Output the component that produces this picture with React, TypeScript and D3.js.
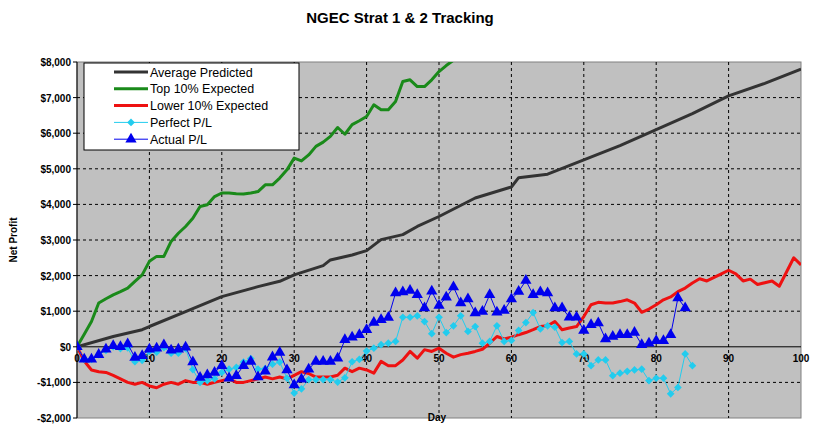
import * as d3 from "d3";

const avgDays = [0, 5, 9, 10, 15, 20, 25, 28, 30, 34, 35, 38, 40, 42, 45, 47, 50, 55, 60, 61, 65, 70, 75, 80, 85, 90, 95, 100];
const avgVals = [0, 290, 480, 570, 990, 1410, 1690, 1840, 2020, 2280, 2440, 2580, 2700, 3010, 3150, 3380, 3660, 4180, 4490, 4750, 4850, 5250, 5650, 6100, 6550, 7050, 7400, 7800];

const topVals = [0, 350, 710, 1230, 1350, 1460, 1550, 1650, 1840, 2020, 2400, 2540, 2540, 2960, 3190, 3380, 3610, 3940, 3990, 4220, 4320, 4320, 4300, 4290, 4320, 4360, 4550, 4550, 4740, 4970, 5300, 5220, 5390, 5630, 5750, 5910, 6160, 5970, 6240, 6350, 6470, 6800, 6660, 6660, 6890, 7450, 7500, 7310, 7310, 7500, 7730, 7900, 8050, 8200];

const lowVals = [0, -400, -650, -700, -720, -800, -900, -1000, -1050, -1000, -1100, -1150, -1050, -1000, -1050, -950, -1000, -1000, -1050, -1000, -950, -900, -1000, -1000, -950, -900, -850, -900, -850, -900, -800, -700, -750, -850, -850, -850, -800, -600, -700, -600, -650, -740, -410, -530, -530, -370, -130, -320, -80, -130, -40, -180, -290, -220, -180, -130, -70, 100, 290, 220, 270, 340, 400, 480, 570, 590, 710, 480, 530, 570, 850, 1180, 1250, 1230, 1230, 1270, 1320, 1230, 970, 1060, 1180, 1320, 1400, 1550, 1650, 1790, 1910, 1850, 1950, 2050, 2150, 2050, 1850, 1900, 1750, 1800, 1850, 1700, 2100, 2500, 2300];

const perfectVals = [0, -350, -350, -220, -100, 0, -50, -30, -420, -380, -130, -150, -20, -180, -180, -50, -640, -1000, -950, -900, -720, -630, -580, -430, -330, -630, -610, -490, -430, -880, -1300, -1180, -920, -920, -920, -920, -990, -870, -420, -350, -120, -40, 60, 100, 150, 830, 830, 870, 710, 370, 830, 400, 590, 870, 430, 570, 100, 150, 590, 150, 180, 460, 680, 960, 500, 590, 550, 120, 150, -200, -200, -530, -370, -370, -810, -740, -690, -650, -630, -950, -880, -880, -1320, -1140, -200, -530];

const actualVals = [0, -350, -350, -220, -70, 30, 0, 80, -300, -250, -70, -40, 50, -100, -70, -10, -430, -860, -790, -720, -530, -880, -810, -530, -410, -850, -690, -290, -160, -650, -1070, -910, -630, -410, -410, -410, -320, 200, 270, 340, 480, 680, 760, 820, 1510, 1540, 1580, 1460, 1090, 1560, 1160, 1390, 1680, 1230, 1340, 950, 990, 1460, 970, 1020, 1340, 1550, 1860, 1460, 1540, 1510, 1090, 1090, 830, 830, 460, 620, 670, 220, 290, 340, 340, 400, 60, 100, 170, 170, 340, 1370, 1090];

const yTicks = [-2000, -1000, 0, 1000, 2000, 3000, 4000, 5000, 6000, 7000, 8000];
const xTicks = [0, 10, 20, 30, 40, 50, 60, 70, 80, 90, 100];

const legendItems = [
  { label: "Average Predicted", color: "#333333", w: 3, marker: "" },
  { label: "Top 10% Expected", color: "#1a8a1a", w: 3, marker: "" },
  { label: "Lower 10% Expected", color: "#ee1111", w: 3, marker: "" },
  { label: "Perfect P/L", color: "#22ccee", w: 1, marker: "diamond" },
  { label: "Actual P/L", color: "#0000ee", w: 1, marker: "triangle" },
];

export default function App() {
  const left = 77, right = 801, top = 62, bottom = 418;
  const x = d3.scaleLinear().domain([0, 100]).range([left, right]);
  const y = d3.scaleLinear().domain([-2000, 8000]).range([bottom, top]);
  const line = d3.line<[number, number]>().x((d) => x(d[0])).y((d) => y(d[1]));
  const idx = (vals: number[]) => vals.map((v, i) => [i, v] as [number, number]);
  const diamond = d3.symbol(d3.symbolSquare, 30)()!;
  const tri = d3.symbol(d3.symbolTriangle, 55)()!;
  const font = "Arial, 'Liberation Sans', sans-serif";

  return (
    <svg width={814} height={432} style={{ position: "absolute", left: 0, top: 0, background: "#fff" }} fontFamily={font}>
      <defs>
        <clipPath id="plot">
          <rect x={left} y={top} width={right - left} height={bottom - top} />
        </clipPath>
      </defs>
      <text x={400} y={23} textAnchor="middle" fontWeight="bold" fontSize={15}>NGEC Strat 1 &amp; 2 Tracking</text>
      <rect x={left} y={top} width={right - left} height={bottom - top} fill="#c0c0c0" stroke="#808080" />
      {yTicks.map((t) => (
        <g key={"y" + t}>
          {t !== 0 && t !== -2000 && t !== 8000 && (
            <line x1={left} x2={right} y1={y(t)} y2={y(t)} stroke="#000" strokeDasharray="3,3" />
          )}
          <line x1={left - 4} x2={left} y1={y(t)} y2={y(t)} stroke="#000" />
          <text x={left - 6} y={y(t) + 4} textAnchor="end" fontSize={10} fontWeight="bold">
            {t < 0 ? "-" : ""}{d3.format("$,")(Math.abs(t))}
          </text>
        </g>
      ))}
      {xTicks.map((t) => (
        <g key={"x" + t}>
          {t !== 0 && t !== 100 && (
            <line x1={x(t)} x2={x(t)} y1={top} y2={bottom} stroke="#000" strokeDasharray="3,3" />
          )}
          <text x={x(t)} y={y(0) + 15} textAnchor="middle" fontSize={10} fontWeight="bold">{t}</text>
        </g>
      ))}
      <line x1={left} x2={left} y1={top} y2={bottom} stroke="#000" />
      <line x1={left} x2={right} y1={y(0)} y2={y(0)} stroke="#000" />
      <g clipPath="url(#plot)" fill="none" strokeLinejoin="round">
        <path d={line(avgDays.map((d, i) => [d, avgVals[i]] as [number, number]))!} stroke="#333333" strokeWidth={3} />
        <path d={line(idx(topVals))!} stroke="#1a8a1a" strokeWidth={3} />
        <path d={line(idx(lowVals))!} stroke="#ee1111" strokeWidth={3} />
        <path d={line(idx(perfectVals))!} stroke="#22ccee" strokeWidth={1} />
        {perfectVals.map((v, i) => (
          <path key={"p" + i} d={diamond} transform={`translate(${x(i)},${y(v)}) rotate(45)`} fill="#22ccee" />
        ))}
        <path d={line(idx(actualVals))!} stroke="#0000ee" strokeWidth={1} />
        {actualVals.map((v, i) => (
          <path key={"a" + i} d={tri} transform={`translate(${x(i)},${y(v)})`} fill="#0000ee" />
        ))}
      </g>
      <text x={437} y={421} textAnchor="middle" fontSize={10} fontWeight="bold">Day</text>
      <text transform={`translate(17,${(top + bottom) / 2}) rotate(-90)`} textAnchor="middle" fontSize={10} fontWeight="bold">Net Profit</text>
      <rect x={84} y={63} width={215} height={87} fill="#fff" stroke="#000" />
      {legendItems.map((it, i) => {
        const ly = 72 + i * 16.8;
        return (
          <g key={it.label}>
            <line x1={114} x2={148} y1={ly} y2={ly} stroke={it.color} strokeWidth={it.w} />
            {it.marker === "diamond" && <path d={diamond} transform={`translate(131,${ly}) rotate(45)`} fill={it.color} />}
            {it.marker === "triangle" && <path d={tri} transform={`translate(131,${ly})`} fill={it.color} />}
            <text x={150} y={ly + 4.5} fontSize={12.5}>{it.label}</text>
          </g>
        );
      })}
    </svg>
  );
}
